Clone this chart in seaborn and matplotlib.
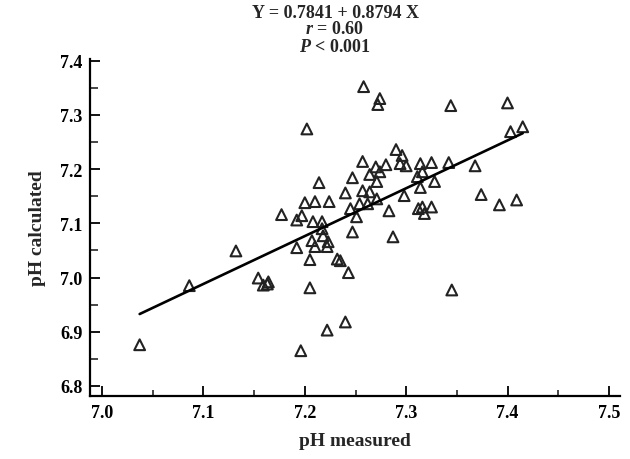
import matplotlib
matplotlib.use("Agg")
import matplotlib.pyplot as plt
from matplotlib.ticker import MultipleLocator
import seaborn as sns

# pH measured vs pH calculated
ph_measured = [
    7.258, 7.274, 7.272, 7.344, 7.400, 7.403, 7.415, 7.202,
    7.290, 7.296, 7.294, 7.300, 7.314, 7.325, 7.342, 7.368,
    7.257, 7.270, 7.280, 7.264, 7.274, 7.271, 7.247, 7.214,
    7.240, 7.257, 7.264, 7.311, 7.316, 7.328, 7.314, 7.298,
    7.374, 7.200, 7.210, 7.224, 7.392, 7.409, 7.283, 7.245,
    7.254, 7.262, 7.271, 7.316, 7.312, 7.325, 7.318,
    7.177, 7.192, 7.197, 7.208, 7.217, 7.217, 7.218, 7.207,
    7.223, 7.210, 7.222, 7.192, 7.132, 7.205, 7.232, 7.235,
    7.243, 7.247, 7.251, 7.287, 7.154, 7.159, 7.164, 7.163,
    7.086, 7.205, 7.345, 7.240, 7.222, 7.196, 7.037,
]
ph_calculated = [
    7.352, 7.330, 7.319, 7.317, 7.322, 7.269, 7.278, 7.274,
    7.236, 7.225, 7.210, 7.206, 7.210, 7.212, 7.212, 7.206,
    7.214, 7.204, 7.208, 7.190, 7.195, 7.177, 7.184, 7.175,
    7.156, 7.160, 7.158, 7.186, 7.195, 7.177, 7.166, 7.151,
    7.153, 7.138, 7.140, 7.140, 7.134, 7.143, 7.123, 7.127,
    7.136, 7.136, 7.145, 7.130, 7.127, 7.130, 7.118,
    7.116, 7.106, 7.114, 7.103, 7.103, 7.090, 7.077, 7.068,
    7.066, 7.057, 7.057, 7.055, 7.049, 7.033, 7.034, 7.031,
    7.009, 7.084, 7.112, 7.075, 6.999, 6.986, 6.992, 6.988,
    6.985, 6.981, 6.977, 6.918, 6.903, 6.865, 6.876,
]

sns.set_style("ticks")
plt.rcParams["font.family"] = ["Liberation Serif", "DejaVu Serif"]
plt.rcParams["font.weight"] = "bold"
plt.rcParams["mathtext.fontset"] = "custom"
plt.rcParams["mathtext.it"] = "Liberation Serif:italic:bold"
plt.rcParams["mathtext.rm"] = "Liberation Serif:bold"

fig = plt.figure(figsize=(6.3, 4.6), dpi=100)
ax = fig.add_axes([90 / 630, 1 - 397 / 460, 530 / 630, 337 / 460])

sns.regplot(
    x=ph_measured, y=ph_calculated, ax=ax, ci=None, truncate=True,
    marker="^", color="black",
    scatter_kws=dict(facecolors="none", edgecolors="#222222", s=60,
                     linewidths=1.5, alpha=1),
    line_kws=dict(color="black", lw=1.9),
)

ax.set_xlim(6.988, 7.511)
ax.set_ylim(6.7815, 7.403)
ax.xaxis.set_major_locator(MultipleLocator(0.1))
ax.xaxis.set_minor_locator(MultipleLocator(0.05))
ax.yaxis.set_major_locator(MultipleLocator(0.1))
ax.yaxis.set_minor_locator(MultipleLocator(0.05))
ax.xaxis.set_major_formatter(lambda v, p: f"{v:.1f}")
ax.yaxis.set_major_formatter(lambda v, p: f"{v:.1f}")

ax.tick_params(which="major", direction="in", length=7, width=1.3,
               labelsize=13, colors="black", pad=5.5)
ax.tick_params(axis="x", which="minor", direction="in", length=4, width=1.2)
ax.tick_params(axis="y", which="minor", direction="in", length=6, width=1.2)
for lab in ax.get_xticklabels() + ax.get_yticklabels():
    lab.set_fontweight("bold")

sns.despine(ax=ax)
for side in ["left", "bottom"]:
    ax.spines[side].set_linewidth(1.6)
    ax.spines[side].set_color("black")

ax.set_xlabel("pH measured", fontsize=14, fontweight="bold", labelpad=8)
ax.set_ylabel("pH calculated", fontsize=14, fontweight="bold", labelpad=10)

cx = 335 / 630
fig.text(cx, 1 - 13 / 460, "Y = 0.7841 + 0.8794 X", ha="center", va="center",
         fontsize=13, fontweight="bold")
fig.text(cx, 1 - 30 / 460, "$r$ = 0.60", ha="center", va="center",
         fontsize=13, fontweight="bold")
fig.text(cx, 1 - 47 / 460, "$P$ < 0.001", ha="center", va="center",
         fontsize=13, fontweight="bold")

fig.savefig("out.png", dpi=100)
